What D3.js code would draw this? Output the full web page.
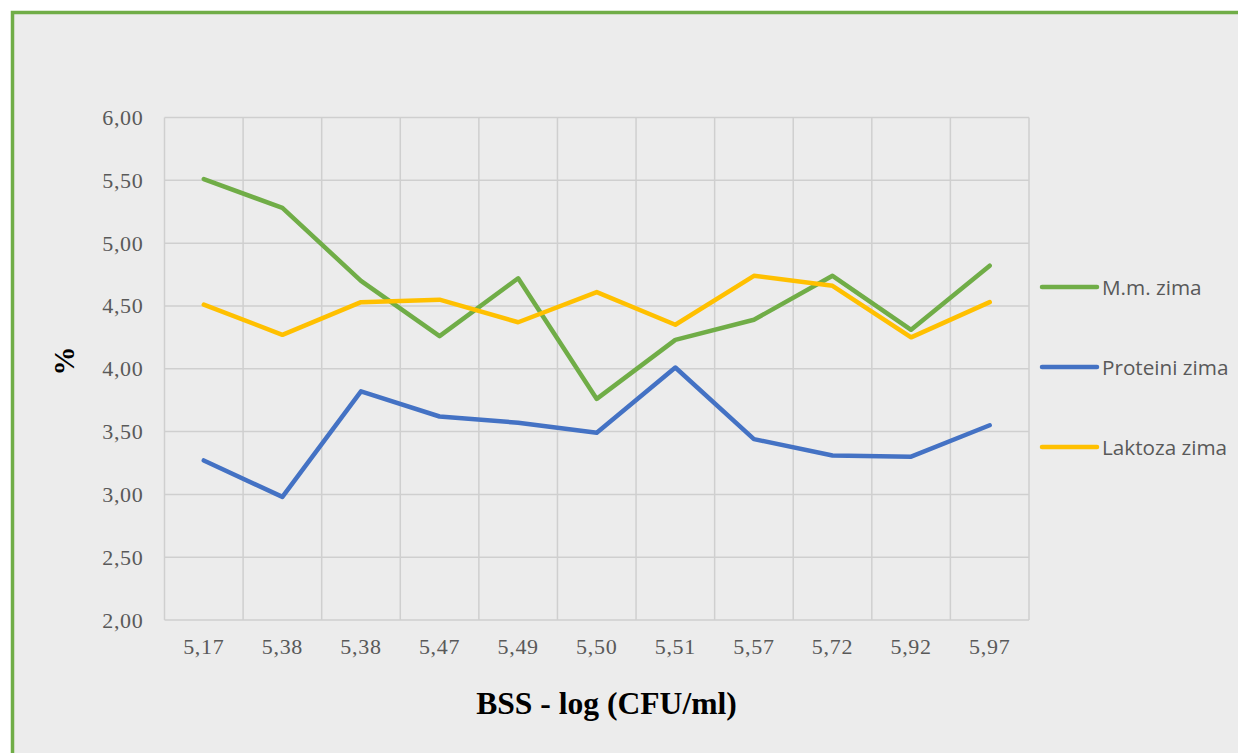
<!DOCTYPE html>
<html>
<head>
<meta charset="utf-8">
<script src="https://cdn.jsdelivr.net/npm/d3@7"></script>
<style>
html,body{margin:0;padding:0;background:#fff;}
svg{display:block;}
</style>
</head>
<body>
<svg id="chart" width="1238" height="753"></svg>
<script>
const categories = ["5,17","5,38","5,38","5,47","5,49","5,50","5,51","5,57","5,72","5,92","5,97"];
const mmZima = [5.51,5.28,4.70,4.26,4.72,3.76,4.23,4.39,4.74,4.31,4.82];
const proteiniZima = [3.27,2.98,3.82,3.62,3.57,3.49,4.01,3.44,3.31,3.30,3.55];
const laktozaZima = [4.51,4.27,4.53,4.55,4.37,4.61,4.35,4.74,4.66,4.25,4.53];
const yTicks = [2.0,2.5,3.0,3.5,4.0,4.5,5.0,5.5,6.0];
const seriesNames = ["M.m. zima","Proteini zima","Laktoza zima"];
const seriesColors = ["#70ad47","#4472c4","#ffc000"];

const series = [mmZima, proteiniZima, laktozaZima].map((v,i)=>({name:seriesNames[i], color:seriesColors[i], values:v}));

const svg = d3.select("#chart");
svg.append("rect").attr("x",0).attr("y",0).attr("width",1238).attr("height",753).attr("fill","#fff");
svg.append("rect").attr("x",12.5).attr("y",12.5).attr("width",1240).attr("height",760)
  .attr("fill","#ececec").attr("stroke","#70ad47").attr("stroke-width",3.5);

const plot = {left:164.5, right:1029, top:117.5, bottom:620};
const x = d3.scaleBand().domain(d3.range(categories.length)).range([plot.left, plot.right]).padding(0);
const y = d3.scaleLinear().domain([2,6]).range([plot.bottom, plot.top]);

const serif = "'Liberation Serif', 'Times New Roman', serif";
const g = svg.append("g");
g.selectAll("line.hg").data(yTicks).join("line")
  .attr("x1",plot.left).attr("x2",plot.right)
  .attr("y1",d=>y(d)).attr("y2",d=>y(d))
  .attr("stroke","#cfcfcf").attr("stroke-width",1.5);
const vb = d3.range(categories.length+1).map(i=> i<categories.length ? x(i) : x(categories.length-1)+x.bandwidth());
g.selectAll("line.vg").data(vb).join("line")
  .attr("x1",d=>d).attr("x2",d=>d)
  .attr("y1",plot.top).attr("y2",plot.bottom)
  .attr("stroke","#cfcfcf").attr("stroke-width",1.5);

const yAxis = d3.axisLeft(y).tickValues(yTicks).tickSize(0).tickPadding(21)
  .tickFormat(d=>d3.format(".2f")(d).replace(".",","));
const ya = svg.append("g").attr("transform",`translate(${plot.left},0)`).call(yAxis);
ya.select(".domain").remove();
ya.selectAll("text").attr("font-family",serif)
  .attr("font-size",22).attr("letter-spacing",0.7).attr("fill","#595959");

const xAxis = d3.axisBottom(x).tickSize(0).tickPadding(18).tickFormat(i=>categories[i]);
const xa = svg.append("g").attr("transform",`translate(0,${plot.bottom})`).call(xAxis);
xa.select(".domain").remove();
xa.selectAll("text").attr("font-family",serif)
  .attr("font-size",22).attr("letter-spacing",0.7).attr("fill","#595959");

const line = d3.line().x((d,i)=>x(i)+x.bandwidth()/2).y(d=>y(d));
svg.append("g").selectAll("path").data(series).join("path")
  .attr("d",d=>line(d.values)).attr("fill","none")
  .attr("stroke",d=>d.color).attr("stroke-width",4.5)
  .attr("stroke-linecap","round").attr("stroke-linejoin","round");

svg.append("text").attr("x",606.5).attr("y",714).attr("text-anchor","middle")
  .attr("font-family",serif).attr("font-weight","bold")
  .attr("font-size",31.6).attr("fill","#000").text("BSS - log (CFU/ml)");
svg.append("text").attr("transform","translate(74,361) rotate(-90)").attr("text-anchor","middle")
  .attr("font-family",serif).attr("font-weight","bold")
  .attr("font-size",29).attr("fill","#000").text("%");

const legendY = [287, 367, 447];
const lg = svg.append("g").selectAll("g").data(series).join("g")
  .attr("transform",(d,i)=>`translate(1042,${legendY[i]})`);
lg.append("line").attr("x1",0).attr("x2",55).attr("y1",0).attr("y2",0)
  .attr("stroke",d=>d.color).attr("stroke-width",4.5).attr("stroke-linecap","round");
lg.append("text").attr("x",60).attr("y",7.5).attr("font-family","'Open Sans', 'Noto Sans', sans-serif")
  .attr("font-size",20.7).attr("fill","#595959").text(d=>d.name);
</script>
</body>
</html>
